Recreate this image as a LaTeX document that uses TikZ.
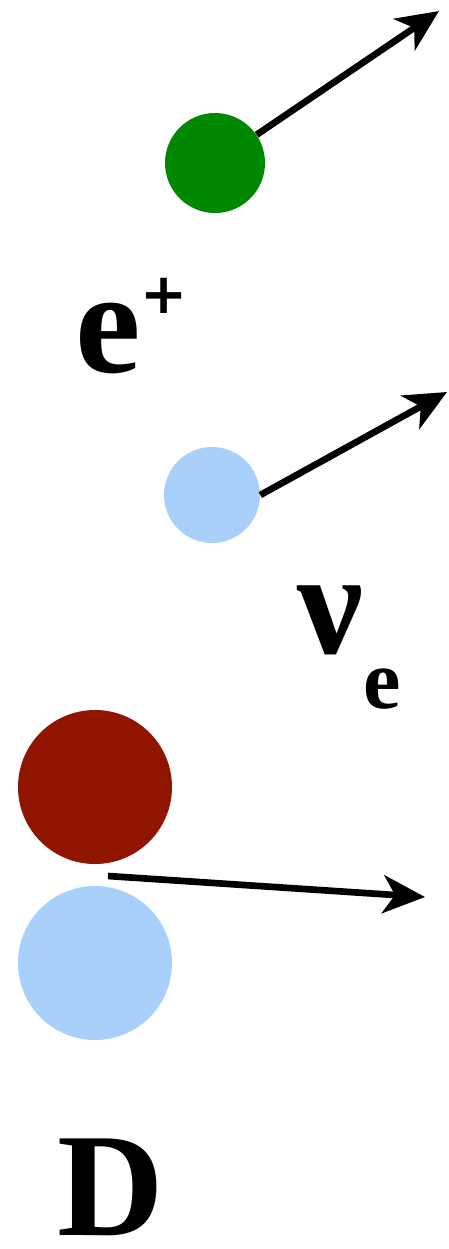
\documentclass[tikz,border=0pt]{standalone}
\usepackage{fontspec}
\setmainfont{Liberation Serif}
\newfontfamily\plusfont{DejaVu Sans}
\usetikzlibrary{arrows.meta}
\definecolor{posgreen}{RGB}{0,136,0}
\definecolor{nublue}{RGB}{168,208,250}
\definecolor{protonred}{RGB}{144,20,0}

\begin{document}
\begin{tikzpicture}[x=0.02cm, y=-0.02cm,
        arr/.style={-{Stealth[length=0.84cm, width=0.76cm, inset=0.24cm]}, line width=3.8pt},
        ball/.style={circle, inner sep=0pt, minimum size=#1*0.02cm},
        lbl/.style={anchor=base west, inner sep=0pt,
                    font=\fontsize{84}{84}\selectfont\bfseries}
      ]
        \useasboundingbox (0,0) rectangle (449,1249);

        % positron
        \node[ball=100, fill=posgreen] (pos) at (215,163) {};
        \coordinate (posend) at (439,11);
        \draw[arr] (pos) -- (posend);
        \node[lbl] (poslbl) at (75,372)
              {e\raisebox{1.18cm}{\plusfont\bfseries\fontsize{32}{32}\selectfont +}};

        % neutrino
        \node[ball=96, fill=nublue] (nu) at (212,495) {};
        \coordinate (nuend) at (447,392);
        \draw[arr] (nu.east) -- (nuend);
        \node[lbl] (nulbl) at (297,653)
              {ν\raisebox{-1.1cm}{\fontsize{48}{48}\selectfont e}};

        % deuteron
        \node[ball=154, fill=protonred] (prot) at (95,787) {};
        \node[ball=154, fill=nublue] (neut) at (95,963) {};
        \coordinate (dstart) at (108,876);
        \coordinate (dend) at (425,897);
        \draw[arr] (dstart) -- (dend);
        \node[lbl] (dlbl) at (57,1235) {D};
      \end{tikzpicture}
\end{document}
